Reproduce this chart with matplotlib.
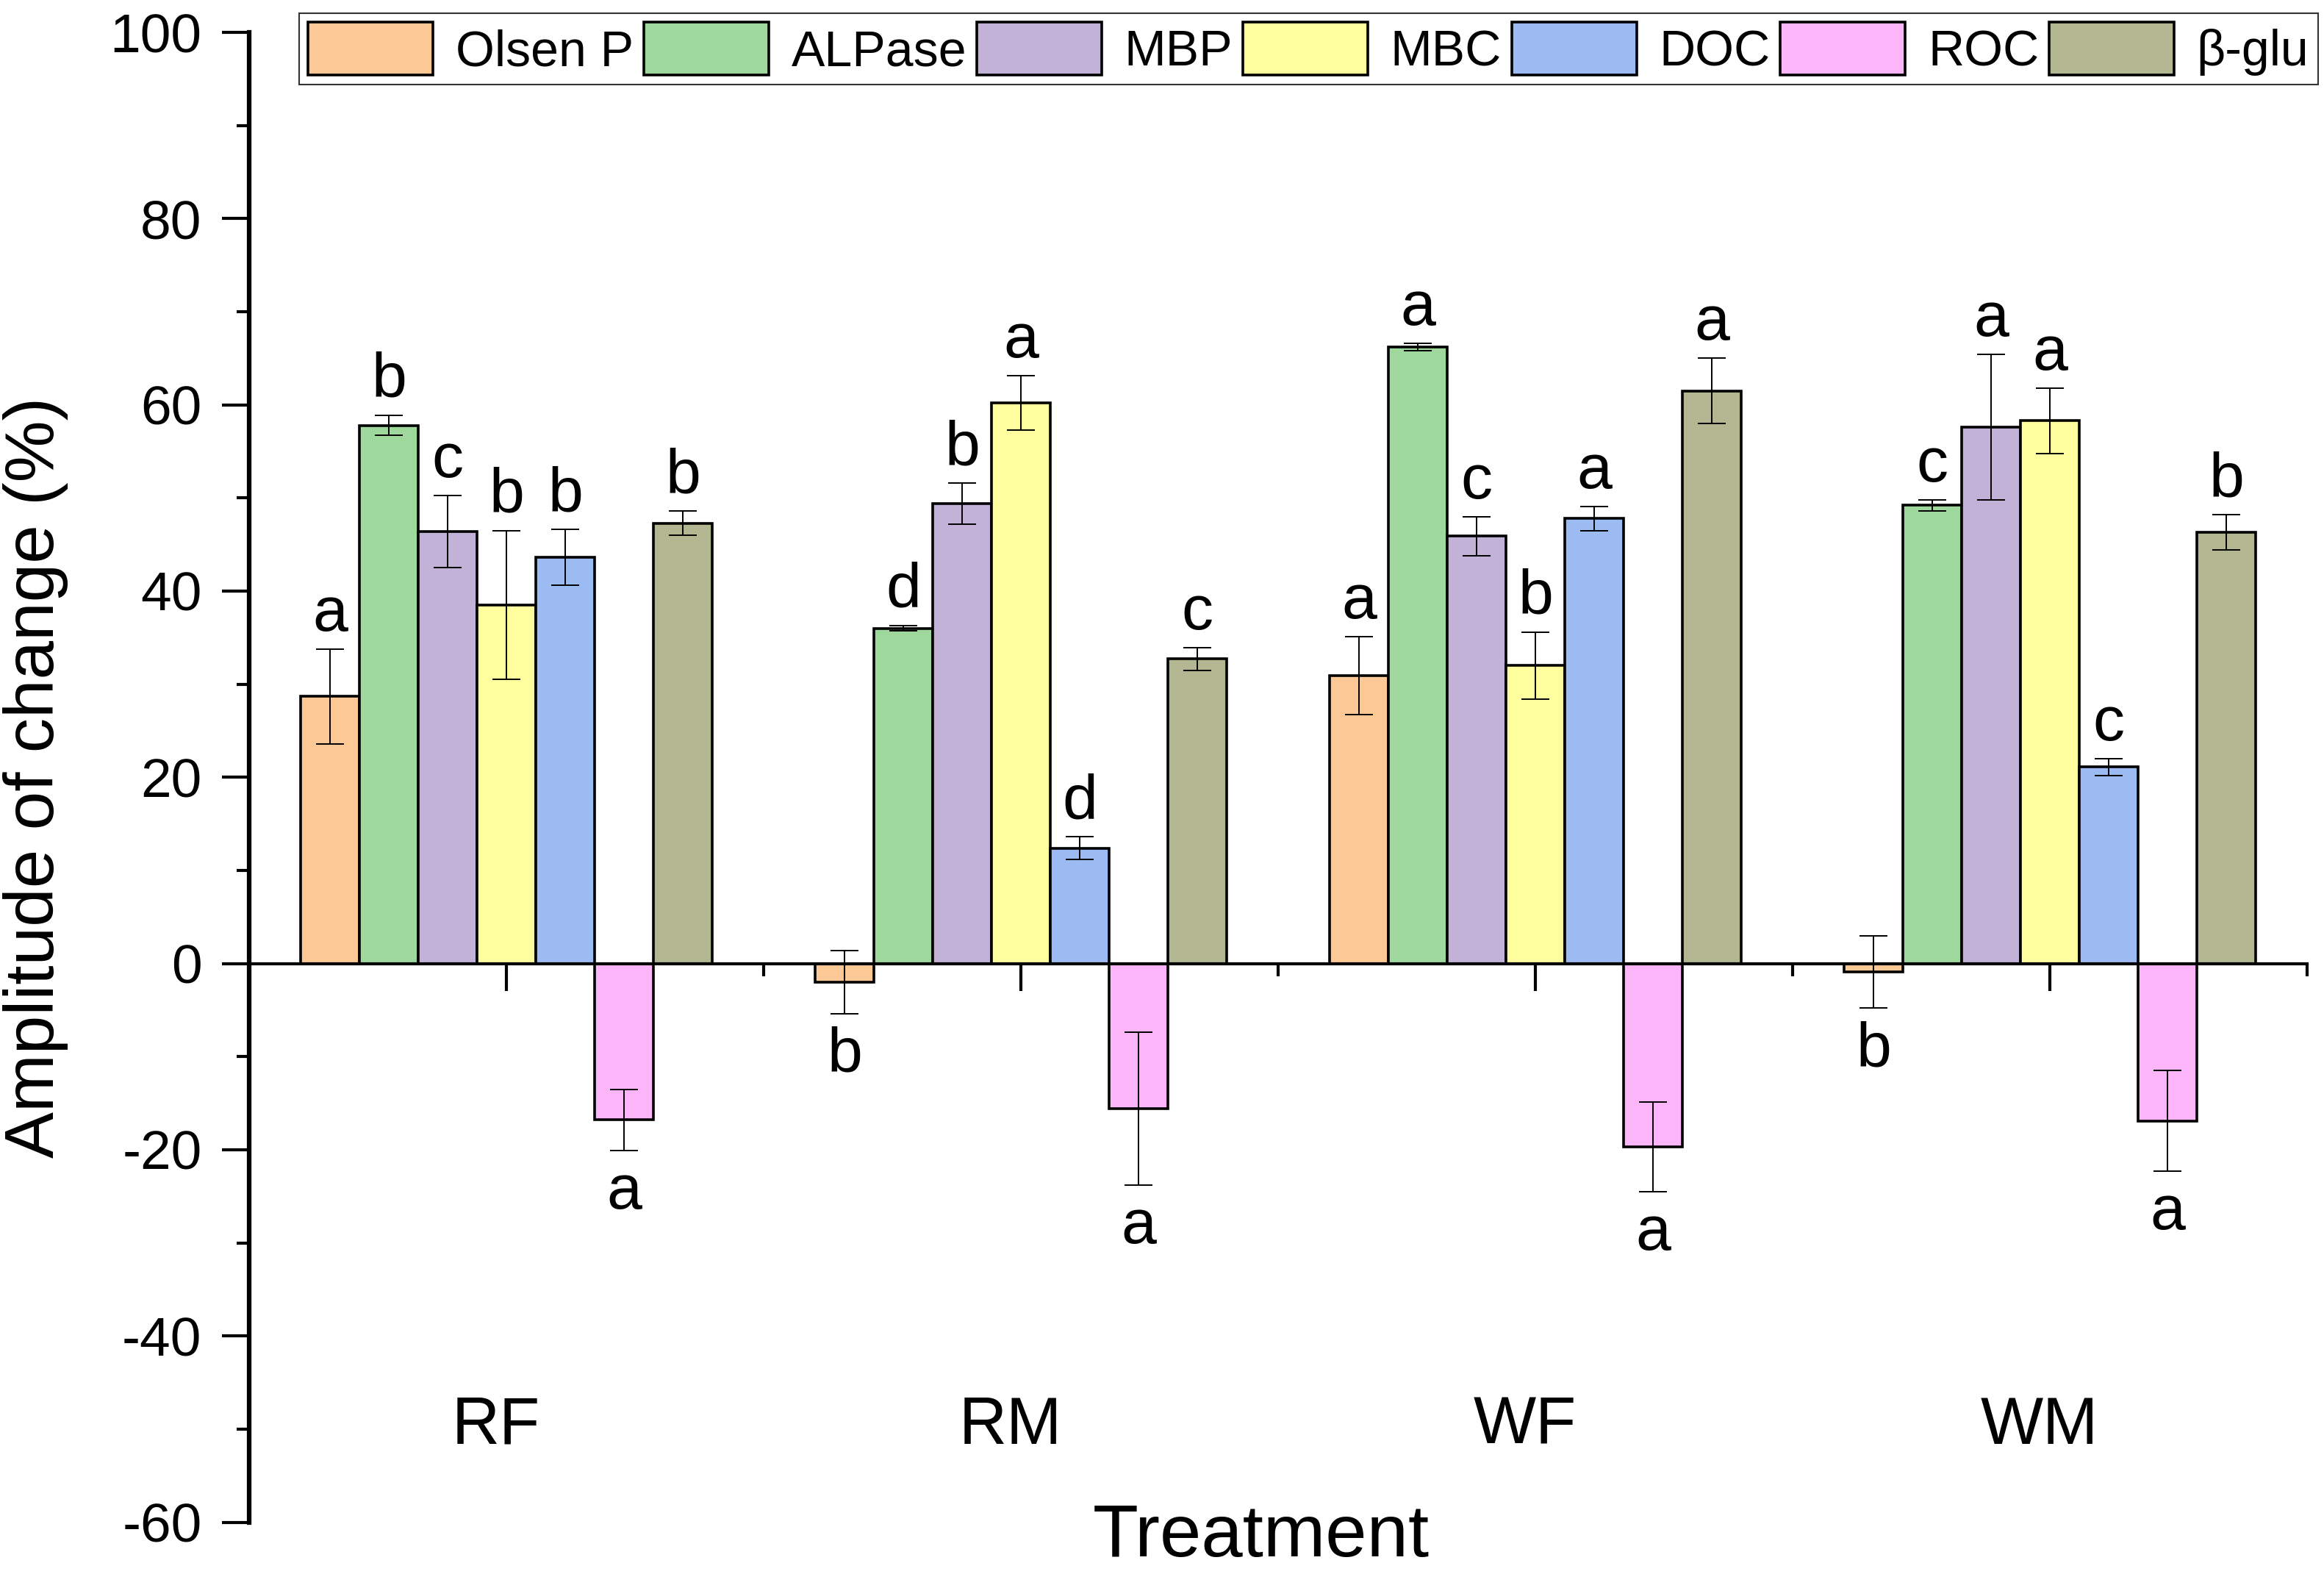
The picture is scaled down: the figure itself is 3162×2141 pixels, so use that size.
import matplotlib
matplotlib.use("Agg")
import matplotlib.pyplot as plt
from matplotlib.ticker import MultipleLocator, FixedLocator, NullFormatter
from matplotlib.patches import Patch
import numpy as np

plt.rcParams['font.family'] = ['Liberation Sans', 'DejaVu Sans']
plt.rcParams['axes.unicode_minus'] = False

treatments = ["RF", "RM", "WF", "WM"]
series = ["Olsen P", "ALPase", "MBP", "MBC", "DOC", "ROC", "β-glu"]
colors = ["#FCC896", "#9ED89C", "#C2B2D8", "#FFFE9E", "#9BBBF2", "#FBB5F8", "#B2B792"]

olsen_p = [28.7, -2.0, 30.9, -0.9]
alpase = [57.8, 36.0, 66.2, 49.2]
mbp = [46.4, 49.4, 45.9, 57.6]
mbc = [38.5, 60.2, 32.0, 58.3]
doc = [43.6, 12.4, 47.8, 21.1]
roc = [-16.8, -15.6, -19.7, -16.9]
bglu = [47.3, 32.7, 61.5, 46.3]

olsen_p_err = [5.1, 3.4, 4.2, 3.9]
alpase_err = [1.1, 0.3, 0.4, 0.6]
mbp_err = [3.9, 2.2, 2.1, 7.8]
mbc_err = [8.0, 2.9, 3.6, 3.5]
doc_err = [3.0, 1.2, 1.3, 0.9]
roc_err = [3.3, 8.2, 4.8, 5.4]
bglu_err = [1.3, 1.2, 3.5, 1.9]

olsen_p_sig = ["a", "b", "a", "b"]
alpase_sig = ["b", "d", "a", "c"]
mbp_sig = ["c", "b", "c", "a"]
mbc_sig = ["b", "a", "b", "a"]
doc_sig = ["b", "d", "a", "c"]
roc_sig = ["a", "a", "a", "a"]
bglu_sig = ["b", "c", "a", "b"]

values = [olsen_p, alpase, mbp, mbc, doc, roc, bglu]
errors = [olsen_p_err, alpase_err, mbp_err, mbc_err, doc_err, roc_err, bglu_err]
sigs = [olsen_p_sig, alpase_sig, mbp_sig, mbc_sig, doc_sig, roc_sig, bglu_sig]

W, H = 3162, 2141
fig = plt.figure(figsize=(W / 100, H / 100), dpi=100)
ax = fig.add_axes([339 / W, 70.4 / H, 2800 / W, 2026.6 / H])

x = np.arange(1, len(treatments) + 1)
bw = 0.8 / len(series)
for i, (name, vals, errs, sg, col) in enumerate(zip(series, values, errors, sigs, colors)):
    xs = x + (i - 3) * bw
    ax.bar(xs, vals, width=bw, color=col, edgecolor="black", linewidth=2.6,
           yerr=errs, capsize=14,
           error_kw=dict(elinewidth=1.4, capthick=1.4, ecolor="black"),
           label=name, zorder=2)
    for xi, v, e, s in zip(xs, vals, errs, sg):
        if v >= 0:
            ax.annotate(s, (xi, v + e), xytext=(0, 5), textcoords="offset points",
                        ha="center", va="bottom", fontsize=62)
        else:
            ax.annotate(s, (xi, v - e), xytext=(0, -12), textcoords="offset points",
                        ha="center", va="top", fontsize=62)

ax.set_xlim(0.5, 4.5)
ax.set_ylim(-60, 100)

for side in ("top", "right"):
    ax.spines[side].set_visible(False)
ax.spines["bottom"].set_position(("data", 0))
ax.spines["bottom"].set_linewidth(3)
ax.spines["left"].set_linewidth(4.5)
ax.spines["bottom"].set_zorder(3)

ax.yaxis.set_major_locator(MultipleLocator(20))
ax.yaxis.set_minor_locator(MultipleLocator(10))
ax.tick_params(axis="y", which="major", direction="out", length=26.5, width=3,
               labelsize=54, pad=20)
ax.tick_params(axis="y", which="minor", direction="out", length=12, width=3)

ax.xaxis.set_major_locator(FixedLocator(list(x)))
ax.xaxis.set_minor_locator(FixedLocator(list(x + 0.5)))
ax.xaxis.set_major_formatter(NullFormatter())
ax.tick_params(axis="x", which="major", direction="out", length=26.5, width=3)
ax.tick_params(axis="x", which="minor", direction="out", length=12, width=3)

for xi, t in zip(x, treatments):
    ax.text(xi - 0.02, -49.7, t, ha="center", va="center", fontsize=65)

ax.set_ylabel("Amplitude of change (%)", fontsize=68)
ax.yaxis.set_label_coords(-0.088, 0.5)
fig.text(1716 / W, 24 / H, "Treatment", ha="center", va="baseline", fontsize=73)

handles = [Patch(facecolor=c, edgecolor="black", linewidth=2.6) for c in colors]
leg = fig.legend(handles, series, loc="upper left",
                 bbox_to_anchor=(407 / W, 1 - 18 / H), bbox_transform=fig.transFigure,
                 ncol=7, fontsize=49, handlelength=2.5, handleheight=1.25,
                 handletextpad=0.45, columnspacing=0.2, borderpad=0.18,
                 borderaxespad=0, fancybox=False, framealpha=1)
leg.get_frame().set_edgecolor("#333333")
leg.get_frame().set_linewidth(1.5)

fig.savefig("out.png", dpi=100)
